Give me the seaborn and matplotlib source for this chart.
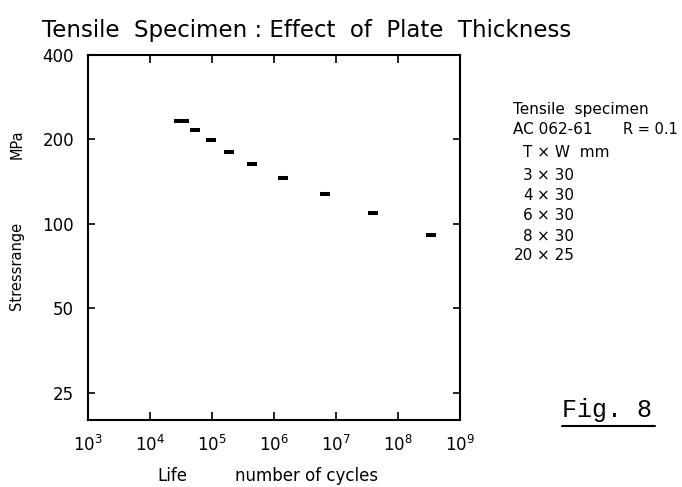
import numpy as np
import pandas as pd
import matplotlib
matplotlib.use('Agg')
import matplotlib.pyplot as plt
from matplotlib.lines import Line2D
from matplotlib.ticker import FixedLocator, NullLocator
import seaborn as sns

# values
cycles = [3.2e4, 5.3e4, 9.5e4, 1.85e5, 4.4e5, 1.42e6, 6.6e6, 4.0e7, 3.45e8]
stress = [233, 216, 199, 180, 164, 146, 128, 109, 91]

x_ticks = [1e3, 1e4, 1e5, 1e6, 1e7, 1e8, 1e9]
y_ticks = [25, 50, 100, 200, 400]
y_tick_labels = ['25', '50', '100', '200', '400']

plate_T = ['3', '4', '6', '8', '20']
plate_W = ['30', '30', '30', '30', '25']

title = 'Tensile  Specimen : Effect  of  Plate  Thickness'

sns.set_style('ticks')
plt.rcParams['font.family'] = ['DejaVu Sans']
plt.rcParams['text.color'] = 'black'
plt.rcParams['axes.labelcolor'] = 'black'

df = pd.DataFrame({'cycles': cycles, 'stress': stress})

W, H = 682, 487
fig = plt.figure(figsize=(W / 100, H / 100), dpi=100)
ax = fig.add_axes([88 / W, 1 - 420 / H, (460 - 88) / W, (420 - 55) / H])

# short horizontal dashes, first one a bit longer
dash_s = [117] + [52] * (len(cycles) - 1)
sns.scatterplot(data=df, x='cycles', y='stress', marker='_', s=dash_s,
                color='black', linewidth=2.9, ax=ax, legend=False)

ax.set_xscale('log')
ax.set_yscale('log')
ax.set_xlim(1e3, 1e9)
ax.set_ylim(20, 400)
ax.xaxis.set_major_locator(FixedLocator(x_ticks))
ax.xaxis.set_minor_locator(NullLocator())
ax.yaxis.set_major_locator(FixedLocator(y_ticks))
ax.yaxis.set_minor_locator(NullLocator())
ax.set_yticklabels(y_tick_labels)
ax.set_xlabel('')
ax.set_ylabel('')

for s in ax.spines.values():
    s.set_linewidth(1.5)
    s.set_color('black')
ax.tick_params(axis='x', which='both', direction='in', top=True, length=6,
               width=1.2, labelsize=12, pad=11, colors='black')
ax.tick_params(axis='y', which='both', direction='in', right=True, length=5,
               width=1.2, labelsize=12, pad=10, colors='black')

# title and axis captions
fig.text(42 / W, 1 - 37 / H, title, fontsize=16.5, va='baseline', ha='left')
fig.text(157 / W, 1 - 481 / H, 'Life', fontsize=12, va='baseline', ha='left')
fig.text(235 / W, 1 - 481 / H, 'number of cycles', fontsize=12,
         va='baseline', ha='left')
fig.text(17 / W, 1 - 266 / H, 'Stressrange', fontsize=10.5, rotation=90,
         va='center', ha='center')
fig.text(17 / W, 1 - 144 / H, 'MPa', fontsize=10.5, rotation=90,
         va='center', ha='center')

# specimen key
fig.text(513 / W, 1 - 114 / H, 'Tensile  specimen', fontsize=11, va='baseline')
fig.text(513 / W, 1 - 134 / H, 'AC 062-61', fontsize=11, va='baseline')
fig.text(678 / W, 1 - 134 / H, 'R = 0.1', fontsize=10.5, va='baseline',
         ha='right')
fig.text(523 / W, 1 - 157.5 / H, 'T \u00d7 W  mm', fontsize=11, va='baseline')
row_y = [180.5, 200.5, 220.5, 240.5, 259.5]
for t, w, yy in zip(plate_T, plate_W, row_y):
    fig.text(533 / W, 1 - yy / H, t, fontsize=11, va='baseline', ha='right')
    fig.text(537 / W, 1 - yy / H, '\u00d7 ' + w, fontsize=11, va='baseline',
             ha='left')

# figure number, underlined
fig.text(562 / W, 1 - 417 / H, 'Fig. 8', fontsize=18, va='baseline',
         ha='left', family=['Liberation Mono', 'DejaVu Sans Mono'])
fig.add_artist(Line2D([562 / W, 655 / W], [1 - 426 / H, 1 - 426 / H],
                      color='black', linewidth=1.5))

fig.savefig('out.png', dpi=100)
